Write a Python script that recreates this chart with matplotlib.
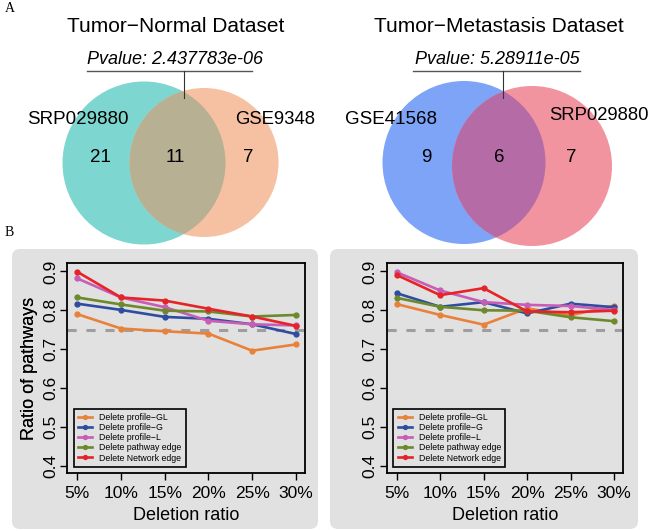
import matplotlib
matplotlib.use("Agg")
import matplotlib.pyplot as plt
from matplotlib.patches import Circle, FancyBboxPatch

plt.rcParams['font.family'] = ['Liberation Sans', 'DejaVu Sans']

# ---------------- data ----------------
venn_titles = ["Tumor\u2212Normal Dataset", "Tumor\u2212Metastasis Dataset"]
venn_pvalues = ["Pvalue: 2.437783e-06", "Pvalue: 5.28911e-05"]
venn_set_a = ["SRP029880", "GSE41568"]
venn_set_b = ["GSE9348", "SRP029880"]
venn_only_a = [21, 9]
venn_both = [11, 6]
venn_only_b = [7, 7]

deletion_ratio = [5, 10, 15, 20, 25, 30]
deletion_labels = ["5%", "10%", "15%", "20%", "25%", "30%"]
series_names = ["Delete profile\u2212GL", "Delete profile\u2212G", "Delete profile\u2212L",
                "Delete pathway edge", "Delete Network edge"]

left_gl = [0.790, 0.753, 0.746, 0.740, 0.696, 0.712]
left_g = [0.817, 0.801, 0.783, 0.778, 0.764, 0.739]
left_l = [0.882, 0.833, 0.808, 0.773, 0.764, 0.761]
left_pathway = [0.833, 0.815, 0.799, 0.797, 0.784, 0.788]
left_network = [0.899, 0.833, 0.825, 0.804, 0.784, 0.760]

right_gl = [0.816, 0.788, 0.763, 0.805, 0.787, 0.812]
right_g = [0.844, 0.809, 0.821, 0.792, 0.817, 0.808]
right_l = [0.898, 0.851, 0.821, 0.814, 0.811, 0.801]
right_pathway = [0.832, 0.809, 0.800, 0.799, 0.782, 0.772]
right_network = [0.891, 0.839, 0.857, 0.797, 0.795, 0.799]

threshold = 0.75
y_ticks = [0.4, 0.5, 0.6, 0.7, 0.8, 0.9]

# ---------------- styles ----------------
series_colors = ["#E8823A", "#2E4DA0", "#C75DB6", "#6C8A2C", "#E52329"]
venn_colors = [("#7DD6CF", "#F6C0A2", "#B8B092"), ("#7DA4F6", "#F2949F", "#B56CA6")]
panel_gray = "#E1E1E1"

fig = plt.figure(figsize=(6.5, 5.31), dpi=100)
bg = fig.add_axes([0, 0, 1, 1])
bg.set_xlim(0, 650)
bg.set_ylim(531, 0)
bg.axis('off')

# panel labels
bg.text(5, 8, "A", family="Liberation Serif", fontsize=10, ha="left", va="center")
bg.text(5, 232, "B", family="Liberation Serif", fontsize=10, ha="left", va="center")

# ---------------- Venn diagrams ----------------
venn_geom = [
    dict(ca=(144, 163), ra=81.5, cb=(204, 162.5), rb=74.5, title_x=176, pv_x=175,
         ul=(87, 252), tick_x=184, la=(77.5, 120, "center"), lb=(275, 120, "center"),
         na=(100, 158), nab=(175, 157), nb=(248, 157)),
    dict(ca=(464, 162.5), ra=81.5, cb=(532, 166), rb=80, title_x=499, pv_x=497.5,
         ul=(413, 580), tick_x=503, la=(390.5, 120, "center"), lb=(649, 115, "right"),
         na=(426, 157), nab=(499, 157), nb=(571, 157)),
]
for i, g in enumerate(venn_geom):
    ca, cb, cab = venn_colors[i]
    circ_a = Circle(g["ca"], g["ra"], facecolor=ca, edgecolor="none", zorder=2)
    circ_b = Circle(g["cb"], g["rb"], facecolor=cb, edgecolor="none", zorder=2)
    bg.add_patch(circ_a)
    bg.add_patch(circ_b)
    ov = Circle(g["ca"], g["ra"], facecolor=cab, edgecolor="none", zorder=3)
    bg.add_patch(ov)
    ov.set_clip_path(circ_b)
    bg.text(g["title_x"], 27, venn_titles[i], fontsize=15, ha="center", va="center")
    bg.text(g["pv_x"], 60, venn_pvalues[i], fontsize=13, style="italic",
            ha="center", va="center")
    bg.plot(list(g["ul"]), [71, 71], color="#555555", lw=1.0, zorder=5)
    bg.plot([g["tick_x"], g["tick_x"]], [71, 98], color="#333333", lw=0.8, zorder=5)
    xa, ya, ha_a = g["la"]
    xb, yb, ha_b = g["lb"]
    bg.text(xa, ya, venn_set_a[i], fontsize=13.5, ha=ha_a, va="center", zorder=6)
    bg.text(xb, yb, venn_set_b[i], fontsize=13.3, ha=ha_b, va="center", zorder=6)
    bg.text(*g["na"], str(venn_only_a[i]), fontsize=13.5, ha="center", va="center", zorder=6)
    bg.text(*g["nab"], str(venn_both[i]), fontsize=13.5, ha="center", va="center", zorder=6)
    bg.text(*g["nb"], str(venn_only_b[i]), fontsize=13.5, ha="center", va="center", zorder=6)

# ---------------- gray panels ----------------
for x0, x1 in [(12, 318), (330, 638)]:
    box = FancyBboxPatch((x0 + 8, 249 + 8), (x1 - x0) - 16, (529 - 249) - 16,
                         boxstyle="round,pad=8", facecolor=panel_gray,
                         edgecolor="none", zorder=1)
    bg.add_patch(box)

# ---------------- line charts ----------------
W, H = 650.0, 531.0
panels = [
    dict(left=67.3, right=304.5, data=[left_gl, left_g, left_l, left_pathway, left_network]),
    dict(left=386.7, right=622.7, data=[right_gl, right_g, right_l, right_pathway, right_network]),
]
top_px, bot_px = 263.3, 473.0
for p in panels:
    ax = fig.add_axes([p["left"] / W, 1 - bot_px / H, (p["right"] - p["left"]) / W,
                       (bot_px - top_px) / H])
    ax.set_facecolor(panel_gray)
    ax.axhline(threshold, color="#9E9E9E", lw=2.2, linestyle=(0, (3, 3.2)), zorder=1)
    for name, col, vals in zip(series_names, series_colors, p["data"]):
        ax.plot(deletion_ratio, vals, color=col, lw=1.9, marker="o", markersize=3.5,
                label=name, zorder=3)
    ax.set_xlim(3.85, 31.0)
    ax.set_ylim(0.381, 0.921)
    ax.set_xticks(deletion_ratio)
    ax.set_xticklabels(deletion_labels)
    ax.set_yticks(y_ticks)
    ax.set_yticklabels([f"{v:.1f}" for v in y_ticks], rotation=90, va="center")
    ax.tick_params(axis="both", direction="out", length=5, width=1.0, color="black",
                   labelsize=12.5)
    ax.tick_params(axis="x", pad=4)
    ax.tick_params(axis="y", pad=1.5)
    for s in ax.spines.values():
        s.set_linewidth(1.3)
        s.set_color("black")
    ax.set_ylabel("Ratio of pathways", fontsize=13)
    ax.set_xlabel("Deletion ratio", fontsize=13)
    ax.yaxis.set_label_coords((38 - p["left"]) / (p["right"] - p["left"]), 0.5)
    ax.xaxis.set_label_coords(0.5, (473 - 507) / (bot_px - top_px))
    leg = ax.legend(loc="lower left", bbox_to_anchor=(0.028, 0.029), borderaxespad=0,
                    fontsize=6.3, frameon=True, fancybox=False, handlelength=1.6,
                    handletextpad=0.8, labelspacing=0.12, borderpad=0.5,
                    markerscale=0.8)
    fr = leg.get_frame()
    fr.set_edgecolor("black")
    fr.set_linewidth(1.2)
    fr.set_facecolor(panel_gray)
    fr.set_alpha(1)

fig.savefig("out.png", dpi=100)
